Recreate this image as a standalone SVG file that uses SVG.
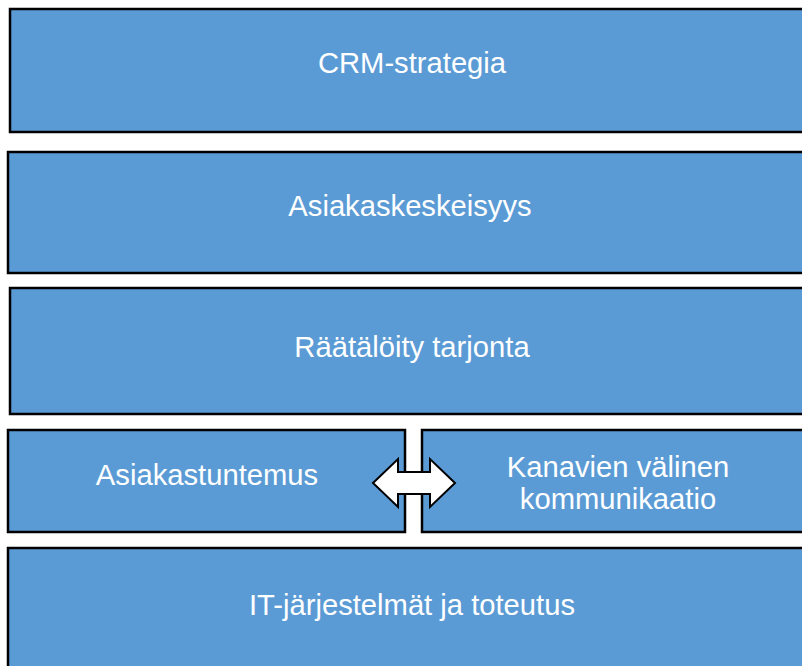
<svg xmlns="http://www.w3.org/2000/svg" width="802" height="666" viewBox="0 0 802 666">
  <defs>
    <style>
      .box { fill: #5B9BD5; stroke: #000; stroke-width: 2.5; }
      .lbl { font-family: "Liberation Sans", Arial, sans-serif; font-size: 29.2px; fill: #fff; text-anchor: middle; }
      .arrow { fill: #fff; stroke: #000; stroke-width: 2; stroke-linejoin: miter; }
    </style>
  </defs>
  <rect width="802" height="666" fill="#fff"/>

  <g id="crm-strategia">
    <rect class="box" x="10" y="9" width="806" height="123"/>
    <text class="lbl" x="412" y="73">CRM-strategia</text>
  </g>

  <g id="asiakaskeskeisyys">
    <rect class="box" x="8" y="152" width="808" height="121"/>
    <text class="lbl" x="410" y="216">Asiakaskeskeisyys</text>
  </g>

  <g id="raataloity-tarjonta">
    <rect class="box" x="10" y="288" width="806" height="126"/>
    <text class="lbl" x="412" y="357">Räätälöity tarjonta</text>
  </g>

  <g id="asiakastuntemus">
    <rect class="box" x="8" y="430" width="397" height="102"/>
    <text class="lbl" x="207" y="485">Asiakastuntemus</text>
  </g>

  <g id="kanavien-valinen-kommunikaatio">
    <rect class="box" x="422" y="430" width="394" height="102"/>
    <text class="lbl" x="618" y="477">Kanavien välinen</text>
    <text class="lbl" x="618" y="509">kommunikaatio</text>
  </g>

  <g id="it-jarjestelmat">
    <rect class="box" x="8" y="548" width="808" height="130"/>
    <text class="lbl" x="412" y="615">IT-järjestelmät ja toteutus</text>
  </g>

  <g id="connectors">
    <path class="arrow" d="M373,483 L398,459 L398,472 L430,472 L430,459 L455,483 L430,507 L430,494 L398,494 L398,507 Z"/>
  </g>
</svg>
